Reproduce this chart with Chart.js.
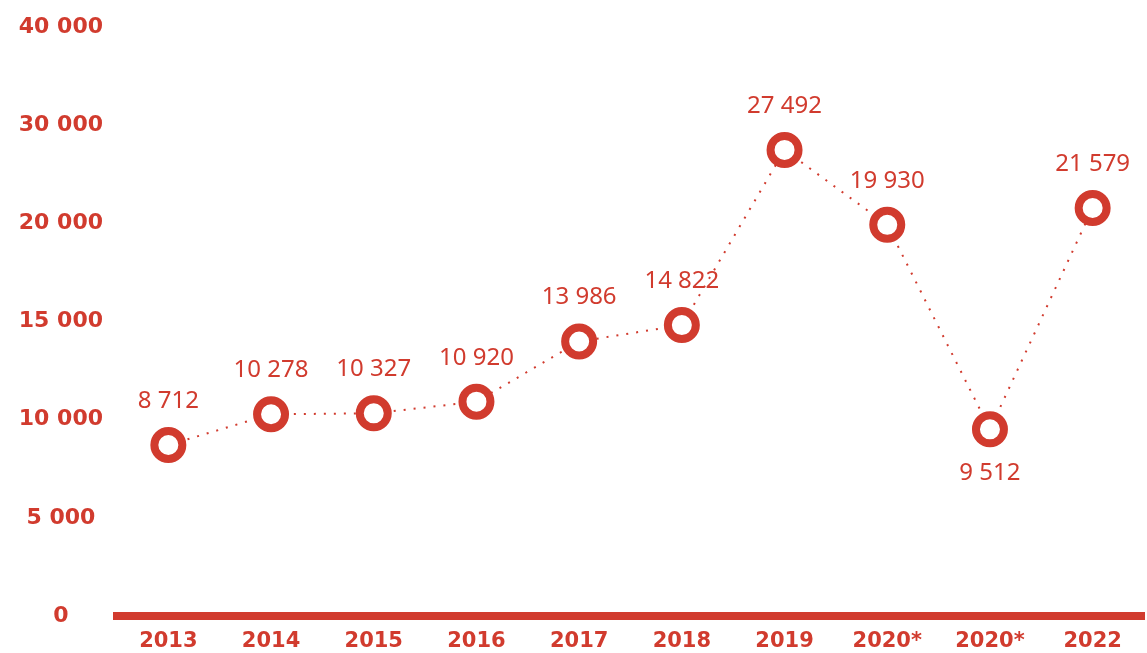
<!DOCTYPE html>
<html>
<head>
<meta charset="utf-8">
<script src="https://cdn.jsdelivr.net/npm/chart.js@4"></script>
<style>
  html, body { margin: 0; padding: 0; background: #fff; }
  #wrap { width: 1147px; height: 653px; }
</style>
</head>
<body>
<div id="wrap"><canvas id="chart"></canvas></div>
<script>
const years = ['2013', '2014', '2015', '2016', '2017', '2018', '2019', '2020*', '2020*', '2022'];
const visitors = [8712, 10278, 10327, 10920, 13986, 14822, 27492, 19930, 9512, 21579];
const yTicks = [0, 5000, 10000, 15000, 20000, 30000, 40000];

const red = '#d13b2e';
const fmt = v => String(v).replace(/\B(?=(\d{3})+(?!\d))/g, ' ');

// the original y axis puts its uneven ticks at even distances
class SteppedScale extends Chart.LinearScale {
  getPixelForValue(value) {
    let i = 0;
    while (i < yTicks.length - 2 && value > yTicks[i + 1]) i++;
    const frac = (value - yTicks[i]) / (yTicks[i + 1] - yTicks[i]);
    return this.getPixelForDecimal((i + frac) / (yTicks.length - 1));
  }
  getValueForPixel(pixel) {
    const d = this.getDecimalForPixel(pixel) * (yTicks.length - 1);
    const i = Math.min(Math.max(Math.floor(d), 0), yTicks.length - 2);
    return yTicks[i] + (d - i) * (yTicks[i + 1] - yTicks[i]);
  }
}
SteppedScale.id = 'stepped';
SteppedScale.defaults = Chart.LinearScale.defaults;
Chart.register(SteppedScale);

// value labels over the points (under them when the point is a dip)
const valueLabels = {
  id: 'valueLabels',
  afterDatasetsDraw(chart) {
    const { ctx } = chart;
    const pts = chart.getDatasetMeta(0).data;
    ctx.save();
    ctx.font = '24px "Noto Sans"';
    ctx.fillStyle = red;
    ctx.textAlign = 'center';
    ctx.textBaseline = 'middle';
    pts.forEach((p, i) => {
      const v = visitors[i];
      const dip = i > 0 && i < visitors.length - 1 && v < visitors[i - 1] && v < visitors[i + 1];
      ctx.fillText(fmt(v), p.x, p.y + (dip ? 44 : -44));
    });
    ctx.restore();
  }
};

new Chart(document.getElementById('chart'), {
  type: 'line',
  data: {
    labels: years,
    datasets: [{
      data: visitors,
      borderColor: red,
      borderWidth: 2,
      borderDash: [2, 8],
      pointRadius: 14,
      pointHoverRadius: 14,
      pointBorderWidth: 8,
      pointBackgroundColor: '#fff',
      pointBorderColor: red,
      tension: 0
    }]
  },
  options: {
    responsive: true,
    maintainAspectRatio: false,
    animation: false,
    layout: { autoPadding: false, padding: { top: 23, right: 3, left: 0, bottom: 0 } },
    plugins: { legend: { display: false }, tooltip: { enabled: false } },
    scales: {
      x: {
        offset: true,
        grid: { display: false, drawTicks: false },
        border: { color: red, width: 8 },
        ticks: {
          color: red,
          font: { family: 'DejaVu Sans', weight: 'bold', size: 21 },
          padding: 13,
          maxRotation: 0,
          autoSkip: false
        },
        afterFit: s => { s.height = 37; }
      },
      y: {
        type: 'stepped',
        min: 0,
        max: 40000,
        afterBuildTicks: s => { s.ticks = yTicks.map(v => ({ value: v })); },
        grid: { display: false, drawTicks: false },
        border: { display: false },
        ticks: {
          color: red,
          font: { family: 'DejaVu Sans', weight: 'bold', size: 22 },
          crossAlign: 'center',
          padding: 14,
          callback: v => fmt(v)
        },
        afterFit: s => { s.width = 117; }
      }
    }
  },
  plugins: [valueLabels]
});
</script>
</body>
</html>
